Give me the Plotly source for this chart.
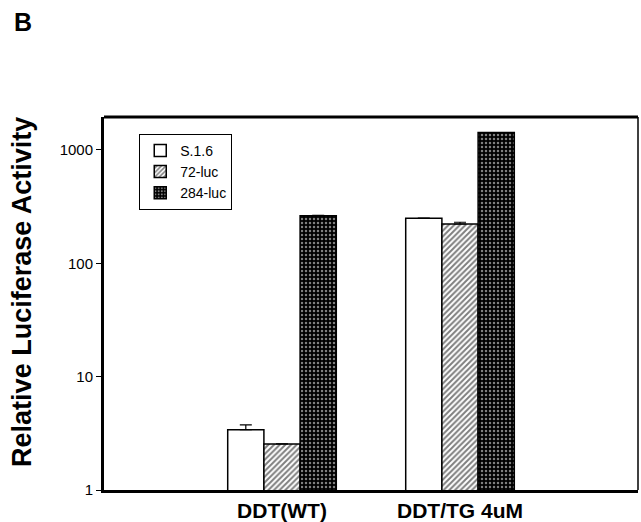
import plotly.graph_objects as go

categories = ["DDT(WT)", "DDT/TG 4uM"]
s16 = [3.4, 250]
luc72 = [2.55, 222]
luc284 = [262, 1420]
s16_err = [0.35, 0]
luc72_err = [0, 8]
luc284_err = [3, 0]

fig = go.Figure()
fig.add_trace(go.Bar(
    name="S.1.6", x=categories, y=s16,
    marker=dict(color="white", line=dict(color="black", width=1.5)),
    error_y=dict(type="data", array=s16_err, arrayminus=[0, 0], symmetric=False,
                 color="black", thickness=1.2, width=6),
))
fig.add_trace(go.Bar(
    name="72-luc", x=categories, y=luc72,
    marker=dict(color="white", line=dict(color="black", width=1.5),
                pattern=dict(shape="/", fgcolor="black", bgcolor="white", size=4, solidity=0.5)),
    error_y=dict(type="data", array=luc72_err, arrayminus=[0, 0], symmetric=False,
                 color="black", thickness=1.2, width=6),
))
fig.add_trace(go.Bar(
    name="284-luc", x=categories, y=luc284,
    marker=dict(color="black", line=dict(color="black", width=1.5),
                pattern=dict(shape=".", fgcolor="white", bgcolor="black", size=4, solidity=0.3)),
    error_y=dict(type="data", array=luc284_err, arrayminus=[0, 0], symmetric=False,
                 color="black", thickness=1.2, width=6),
))

fig.update_layout(
    width=641, height=522,
    margin=dict(l=104, r=3, t=117, b=32, autoexpand=False),
    plot_bgcolor="white", paper_bgcolor="white",
    barmode="group", bargap=0.39, bargroupgap=0,
    font=dict(family="Liberation Sans, Arial, sans-serif", color="black"),
    showlegend=True,
    legend=dict(x=0.066, y=0.955, xanchor="left", yanchor="top",
                bordercolor="black", borderwidth=1, bgcolor="white",
                font=dict(size=14), tracegroupgap=0, itemwidth=30),
    xaxis=dict(range=[-1.0, 2.0], showline=True, linecolor="black", linewidth=3,
               ticks="", showgrid=False, zeroline=False, automargin=False,
               tickfont=dict(size=21, family="Liberation Sans, Arial, sans-serif", weight="bold")),
    yaxis=dict(type="log", range=[0, 3.29], showline=True, linecolor="black", linewidth=3,
               ticks="outside", ticklen=5, tickwidth=1, tickcolor="black",
               tickvals=[1, 10, 100, 1000], ticktext=["1", "10", "100", "1000"],
               showgrid=False, zeroline=False, automargin=False, tickfont=dict(size=15)),
    shapes=[
        dict(type="line", xref="paper", yref="paper", x0=0, x1=1, y0=1, y1=1,
             line=dict(color="black", width=3)),
        dict(type="line", xref="paper", yref="paper", x0=1, x1=1, y0=0, y1=1,
             line=dict(color="black", width=1.5)),
    ],
    annotations=[
        dict(text="<b>B</b>", xref="paper", yref="paper", x=-0.172, y=1.255,
             xanchor="left", yanchor="middle", showarrow=False, font=dict(size=25)),
        dict(text="<b>Relative Luciferase Activity</b>", xref="paper", yref="paper",
             x=-0.1536, y=0.531, xanchor="center", yanchor="middle", textangle=-90,
             showarrow=False, font=dict(size=27)),
    ],
)

fig.write_html("out.html", config={"displayModeBar": False},
               post_script="document.body.style.margin='0';document.body.style.overflow='hidden';")
